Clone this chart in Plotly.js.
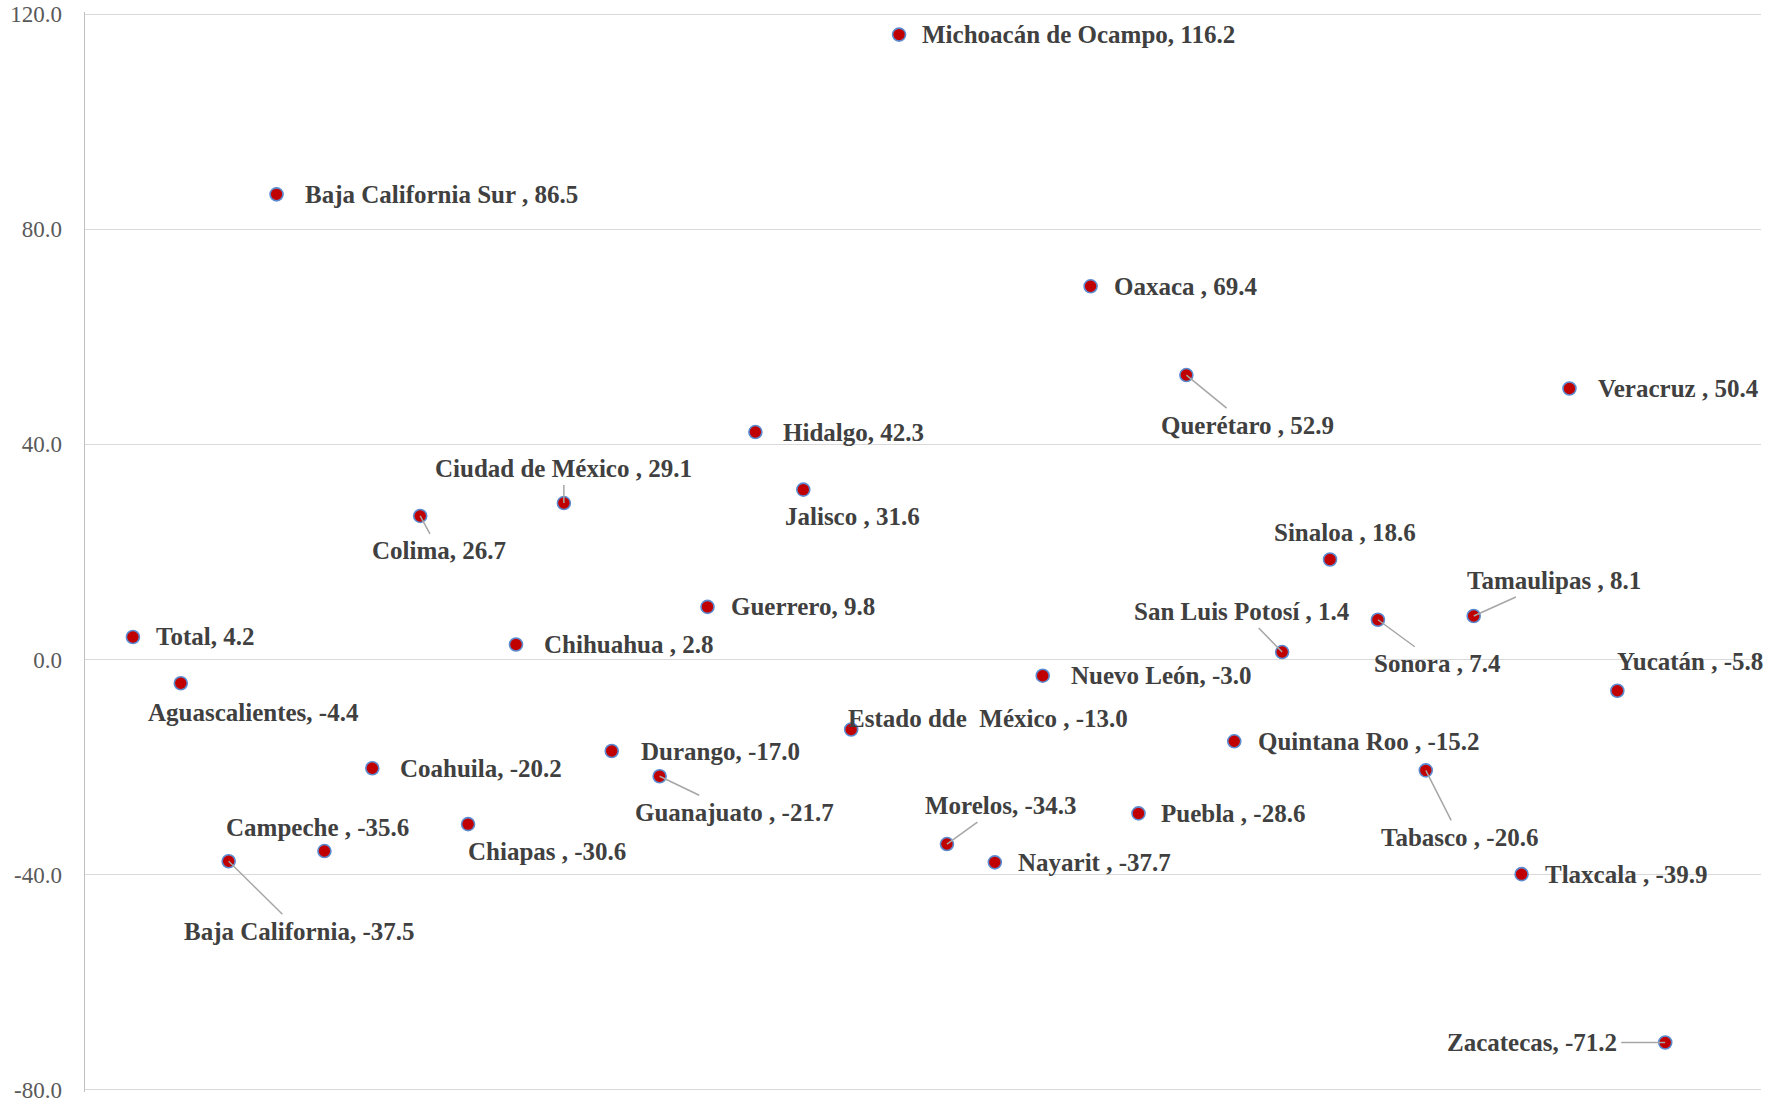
<!DOCTYPE html>
<html>
<head>
<meta charset="utf-8">
<script src="https://cdn.plot.ly/plotly-3.0.1.min.js"></script>
<style>
html,body{margin:0;padding:0;background:#fff;}
#chart{width:1777px;height:1103px;}
</style>
</head>
<body>
<div id="chart"></div>
<script>
// Data
const states = ["Total", "Aguascalientes", "Baja California", "Baja California Sur ", "Campeche ", "Coahuila", "Colima", "Chiapas ", "Chihuahua ", "Ciudad de México ", "Durango", "Guanajuato ", "Guerrero", "Hidalgo", "Jalisco ", "Estado dde  México ", "Michoacán de Ocampo", "Morelos", "Nayarit ", "Nuevo León", "Oaxaca ", "Puebla ", "Querétaro ", "Quintana Roo ", "San Luis Potosí ", "Sinaloa ", "Sonora ", "Tabasco ", "Tamaulipas ", "Tlaxcala ", "Veracruz ", "Yucatán ", "Zacatecas"];
const values = [4.2, -4.4, -37.5, 86.5, -35.6, -20.2, 26.7, -30.6, 2.8, 29.1, -17.0, -21.7, 9.8, 42.3, 31.6, -13.0, 116.2, -34.3, -37.7, -3.0, 69.4, -28.6, 52.9, -15.2, 1.4, 18.6, 7.4, -20.6, 8.1, -39.9, 50.4, -5.8, -71.2];
const yTickValues = [-80, -40, 0, 40, 80, 120];

// Label placement (pixel offsets from the point): [ax, ay, anchor, leader line]
const labelPlacement = [
  [19, 0, 'left', false],   // Total
  [73, 29, 'center', false],  // Aguascalientes
  [71, 70, 'center', true],   // Baja California
  [24, 0, 'left', false],   // BCS
  [-7, -24, 'center', false], // Campeche
  [24, 0, 'left', false],   // Coahuila
  [19, 35, 'center', true],   // Colima
  [79, 27, 'center', false],  // Chiapas
  [24, 0, 'left', false],   // Chihuahua
  [0, -35, 'center', true],   // CDMX
  [25, 0, 'left', false],   // Durango
  [75, 36, 'center', true],   // Guanajuato
  [19, 0, 'left', false],   // Guerrero
  [24, 0, 'left', false],   // Hidalgo
  [49, 27, 'center', false],  // Jalisco
  [-7, -11, 'left', false],  // Estado de México
  [19, 0, 'left', false],   // Michoacán
  [54, -39, 'center', true],  // Morelos
  [19, 0, 'left', false],   // Nayarit
  [24, 0, 'left', false],   // Nuevo León
  [19, 0, 'left', false],   // Oaxaca
  [19, 0, 'left', false],   // Puebla
  [61, 50, 'center', true],   // Querétaro
  [20, 0, 'left', false],   // Quintana Roo
  [-40, -41, 'center', true], // SLP
  [15, -27, 'center', false], // Sinaloa
  [60, 44, 'center', true],   // Sonora
  [34, 67, 'center', true],   // Tabasco
  [80, -36, 'center', true],  // Tamaulipas
  [19, 0, 'left', false],   // Tlaxcala
  [25, 0, 'left', false],   // Veracruz
  [73, -29, 'center', false], // Yucatán
  [-44, 0, 'right', true]    // Zacatecas
];

const xs = states.map((s, i) => i + 1);

const trace = {
  type: 'scatter',
  mode: 'markers',
  x: xs,
  y: values,
  marker: {size: 13, color: '#C00000', line: {color: '#5B8BD0', width: 1.6}},
  hoverinfo: 'skip',
  cliponaxis: false
};

const labelFont = {family: 'Liberation Serif, serif', size: 25, color: '#404040'};

const annotations = states.map((s, i) => {
  const p = labelPlacement[i];
  return {
    x: xs[i], y: values[i], xref: 'x', yref: 'y',
    text: '<b>' + s + ', ' + values[i].toFixed(1) + '</b>',
    showarrow: true,
    ax: p[0], ay: p[1],
    xanchor: p[2], yanchor: 'middle',
    arrowhead: 0, arrowwidth: 1.5,
    arrowcolor: p[3] ? '#A6A6A6' : 'rgba(0,0,0,0)',
    standoff: 0, borderpad: 3,
    font: labelFont
  };
});

const layout = {
  width: 1777, height: 1103,
  margin: {l: 85, r: 16, t: 12, b: 11},
  paper_bgcolor: '#fff', plot_bgcolor: '#fff',
  showlegend: false,
  xaxis: {range: [0, 35], showgrid: false, zeroline: false, showticklabels: false, ticks: '', showline: false},
  yaxis: {
    range: [-80.4, 120.4], tickvals: yTickValues, ticktext: yTickValues.map(v => v.toFixed(1)),
    showgrid: true, gridcolor: '#D9D9D9', gridwidth: 1.3,
    zeroline: false, showline: true, linecolor: '#BFBFBF', linewidth: 1.5,
    ticks: '', ticklabelstandoff: 17, ticklabeloverflow: 'allow',
    tickfont: {family: 'Liberation Serif, serif', size: 23, color: '#595959'}
  },
  annotations: annotations
};

Plotly.newPlot('chart', [trace], layout, {displayModeBar: false, staticPlot: true});
</script>
</body>
</html>
